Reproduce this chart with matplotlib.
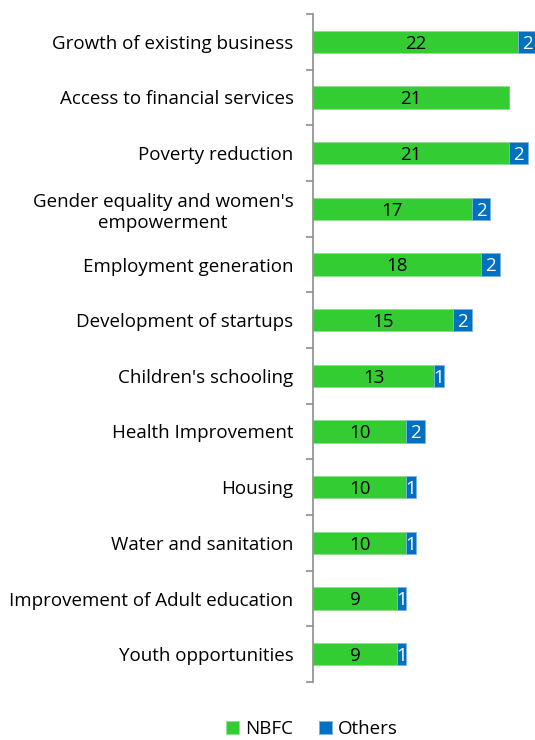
import matplotlib
matplotlib.use("Agg")
import matplotlib.pyplot as plt
import numpy as np

categories = [
    "Growth of existing business",
    "Access to financial services",
    "Poverty reduction",
    "Gender equality and women's\nempowerment",
    "Employment generation",
    "Development of startups",
    "Children's schooling",
    "Health Improvement",
    "Housing",
    "Water and sanitation",
    "Improvement of Adult education",
    "Youth opportunities",
]
nbfc = [22, 21, 21, 17, 18, 15, 13, 10, 10, 10, 9, 9]
others = [2, 0, 2, 2, 2, 2, 1, 2, 1, 1, 1, 1]

green = "#33CC33"
blue = "#0070C0"

plt.rcParams["font.family"] = ["Open Sans", "DejaVu Sans"]
fs = 13.5

fig = plt.figure(figsize=(5.35, 7.4), dpi=100)
ax = fig.add_axes([313 / 535, 1 - 682 / 740, (535 - 313) / 535, (682 - 14) / 740])

y = np.arange(len(categories))
h = 0.4
b1 = ax.barh(y, nbfc, height=h, color=green, edgecolor="#8fe08f", linewidth=0.6, label="NBFC")
b2 = ax.barh(y, others, left=nbfc, height=h, color=blue, edgecolor="#7fb3df", linewidth=0.6, label="Others")

for yi, v in zip(y, nbfc):
    ax.text(v / 2, yi + 0.03, str(v), ha="center", va="center", fontsize=fs, color="black")
for yi, n, o in zip(y, nbfc, others):
    if o > 0:
        ax.text(n + o / 2, yi + 0.03, str(o), ha="center", va="center", fontsize=fs, color="white")

ax.set_xlim(0, 222 / 9.33)
ax.set_ylim(len(categories) - 0.5, -0.5)
ax.set_yticks(y)
ax.set_yticklabels(categories, fontsize=fs, ha="right", multialignment="center")
ax.tick_params(axis="y", length=0, pad=14)
# tick marks between categories
ax.set_yticks(np.arange(-0.5, len(categories) + 0.5, 1), minor=True)
ax.tick_params(axis="y", which="minor", length=5, width=1.2, color="#8c8c8c")
ax.set_xticks([])
for s in ["top", "right", "bottom"]:
    ax.spines[s].set_visible(False)
ax.spines["left"].set_color("#8c8c8c")
ax.spines["left"].set_linewidth(1.2)

fig.legend(handles=[b1, b2], labels=["NBFC", "Others"], loc="center",
           bbox_to_anchor=(0.583, 1 - 729 / 740), ncol=2, frameon=False,
           fontsize=fs, handlelength=0.7, handleheight=0.7, handletextpad=0.3,
           columnspacing=1.4, borderpad=0.2)

fig.savefig("out.png", dpi=100)
